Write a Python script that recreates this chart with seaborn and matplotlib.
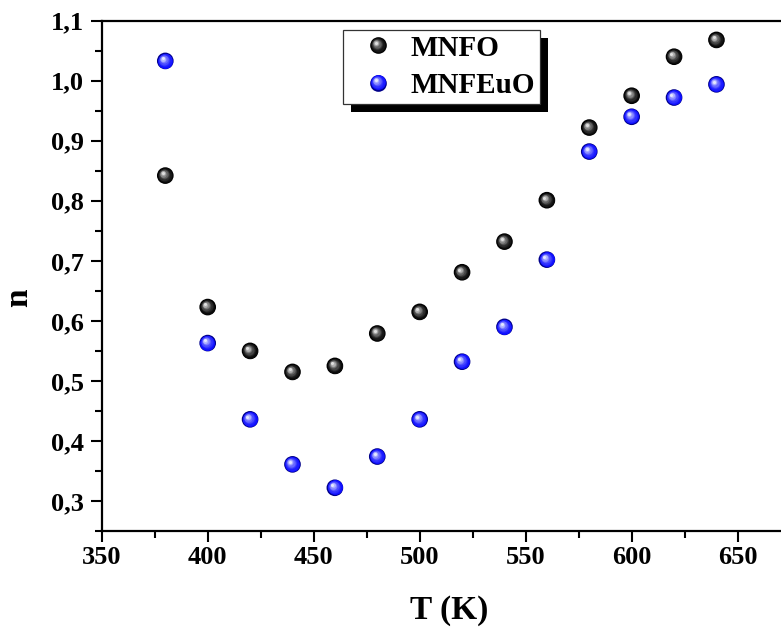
import matplotlib
matplotlib.use("Agg")
import matplotlib.pyplot as plt
import numpy as np
import pandas as pd
import seaborn as sns
from matplotlib.ticker import MultipleLocator, FuncFormatter
from matplotlib.transforms import offset_copy, IdentityTransform
from matplotlib.legend_handler import HandlerBase
from matplotlib.lines import Line2D
from matplotlib.patches import Rectangle
from matplotlib.colors import to_rgb

# Temperature (K) and refractive index n for the two samples
temperature = [380, 400, 420, 440, 460, 480, 500, 520, 540, 560, 580, 600, 620, 640]
n_mnfo = [0.842, 0.623, 0.550, 0.515, 0.525, 0.579, 0.615, 0.681, 0.732, 0.801,
          0.922, 0.975, 1.040, 1.068]
n_mnfeuo = [1.033, 0.563, 0.436, 0.361, 0.322, 0.374, 0.436, 0.532, 0.590, 0.702,
            0.882, 0.940, 0.972, 0.994]
series_names = ["MNFO", "MNFEuO"]
x_ticks = [350, 400, 450, 500, 550, 600, 650]
y_ticks = [0.3, 0.4, 0.5, 0.6, 0.7, 0.8, 0.9, 1.0, 1.1]

# sphere shading: (outer colour, body colour, highlight colour)
shades = {
    "MNFO": ("#000000", "#050505", "#e0e0e0"),
    "MNFEuO": ("#00008a", "#0a0aff", "#e4e8ff"),
}

df = pd.DataFrame({
    "T": temperature * 2,
    "n": n_mnfo + n_mnfeuo,
    "sample": [series_names[0]] * len(temperature) + [series_names[1]] * len(temperature),
})

sns.set_style("ticks")
plt.rcParams["font.family"] = ["Liberation Serif", "DejaVu Serif"]
plt.rcParams["font.weight"] = "bold"
plt.rcParams["text.color"] = "black"
plt.rcParams["axes.labelcolor"] = "black"
plt.rcParams["xtick.color"] = "black"
plt.rcParams["ytick.color"] = "black"

fig = plt.figure(figsize=(7.81, 6.35), dpi=100)
ax = fig.add_axes([101.7 / 781, 1 - 531 / 635, (797 - 101.7) / 781, (531 - 20.7) / 635])

DIAM = 12.0  # marker diameter in points
NLAYERS = 9


def sphere_layers(name):
    """Concentric shaded discs, shrinking toward an upper-left highlight."""
    edge, body, hi = (np.array(to_rgb(c)) for c in shades[name])
    layers = []
    for i in range(NLAYERS):
        t = i / (NLAYERS - 1)
        d = DIAM * (1.0 - 0.82 * t)
        off = 0.32 * (DIAM / 2) * t
        if i == 0:
            col = edge
        else:
            w = t ** 1.8
            col = body * (1 - w) + hi * w
        layers.append((d, tuple(col), -off, off))
    return layers


# base discs through seaborn
sns.scatterplot(data=df, x="T", y="n", hue="sample", hue_order=series_names,
                palette=[shades[s][0] for s in series_names], s=DIAM ** 2,
                linewidth=0, legend=False, ax=ax, zorder=3)

# shading layers on top of each disc
for name in series_names:
    sub = df[df["sample"] == name]
    for k, (d, col, dx, dy) in enumerate(sphere_layers(name)[1:], start=1):
        tr = offset_copy(ax.transData, fig=fig, x=dx, y=dy, units="points")
        ax.scatter(sub["T"], sub["n"], s=d ** 2, color=col, linewidths=0,
                   transform=tr, zorder=3 + k * 0.01)

ax.set_xlim(350, 678)
ax.set_ylim(0.25, 1.1)
ax.xaxis.set_major_locator(plt.FixedLocator(x_ticks))
ax.xaxis.set_minor_locator(MultipleLocator(25))
ax.yaxis.set_major_locator(plt.FixedLocator(y_ticks))
ax.yaxis.set_minor_locator(MultipleLocator(0.05))
ax.yaxis.set_major_formatter(FuncFormatter(lambda v, p: f"{v:.1f}".replace(".", ",")))
ax.xaxis.set_major_formatter(FuncFormatter(lambda v, p: f"{v:.0f}"))

for side in ["left", "bottom", "top", "right"]:
    ax.spines[side].set_linewidth(1.6)
    ax.spines[side].set_color("black")

ax.tick_params(which="major", direction="out", length=8, width=1.5, colors="black",
               labelsize=19)
ax.tick_params(which="minor", direction="out", length=5, width=1.5, colors="black")
ax.tick_params(axis="y", which="major", pad=5)
ax.tick_params(axis="x", which="major", pad=3)
for lab in ax.get_xticklabels() + ax.get_yticklabels():
    lab.set_fontweight("bold")

ax.set_xlabel("T (K)", fontsize=24, fontweight="bold", color="black")
ax.set_ylabel("n", fontsize=24, fontweight="bold", color="black")
ax.xaxis.set_label_coords((449 - 101.7) / 695.3, -0.125)
ax.yaxis.set_label_coords((34 - 101.7) / 695.3, (531 - 298) / 510.3)


class SphereKey:
    def __init__(self, layers):
        self.layers = layers


class SphereHandler(HandlerBase):
    def create_artists(self, legend, orig_handle, xdescent, ydescent, width, height,
                       fontsize, trans):
        cx = width / 2 - xdescent
        cy = height / 2 - ydescent
        arts = []
        for d, col, dx, dy in orig_handle.layers:
            ln = Line2D([cx + dx], [cy + dy], marker="o", markersize=d, color=col,
                        linestyle="none", markeredgewidth=0)
            ln.set_transform(trans)
            arts.append(ln)
        return arts


keys = [SphereKey(sphere_layers(s)) for s in series_names]
leg = ax.legend(keys, series_names, handler_map={SphereKey: SphereHandler()},
                loc="upper left", bbox_to_anchor=(343 / 781, 1 - 30 / 635),
                bbox_transform=fig.transFigure, borderaxespad=0, frameon=True,
                fancybox=False, framealpha=1.0, facecolor="white",
                prop={"family": "Liberation Serif", "weight": "bold", "size": 21},
                borderpad=0.16, handlelength=2.1, handletextpad=0.05,
                labelspacing=0.35)
leg.get_frame().set_edgecolor("#333333")
leg.get_frame().set_linewidth(0.9)
leg.set_zorder(10)
for t in leg.get_texts():
    t.set_color("black")

# solid drop shadow behind the legend box
fig.canvas.draw()
bb = leg.get_window_extent()
shadow = Rectangle((bb.x0 + 8, bb.y0 - 8), bb.width, bb.height, transform=IdentityTransform(),
                   facecolor="black", edgecolor="none", zorder=9, clip_on=False)
ax.add_artist(shadow)

fig.savefig("out.png", dpi=100)
